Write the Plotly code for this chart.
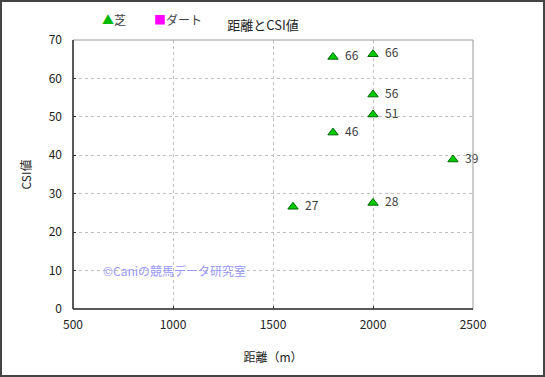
import plotly.graph_objects as go

turf_dist = [1800, 2000, 2000, 2000, 1800, 2400, 1600, 2000]
turf_csi = [65.6, 66.3, 55.8, 50.6, 45.9, 38.9, 26.6, 27.6]
dirt_dist = []
dirt_csi = []
x_ticks = [500, 1000, 1500, 2000, 2500]
y_ticks = [0, 10, 20, 30, 40, 50, 60, 70]

FONT = "Noto Sans CJK JP"
W, H = 545, 377
L, R, T, B = 73, 72, 40, 68
pw, ph = W - L - R, H - T - B

fig = go.Figure()
fig.add_trace(go.Scatter(
    x=turf_dist, y=turf_csi, mode="markers+text", name="芝",
    text=[f"  {round(v)}" for v in turf_csi], textposition="middle right",
    textfont=dict(color="#404040", size=12, family=FONT),
    marker=dict(symbol="triangle-up", size=9, color="#00cc00",
                line=dict(color="#006600", width=1)),
    cliponaxis=False, showlegend=False,
))
fig.add_trace(go.Scatter(
    x=dirt_dist, y=dirt_csi, mode="markers", name="ダート",
    marker=dict(symbol="square", size=9, color="#ff00ff"), showlegend=False,
))

fig.update_layout(
    width=W, height=H, margin=dict(l=L, r=R, t=T, b=B, autoexpand=False),
    paper_bgcolor="white", plot_bgcolor="white",
    font=dict(family=FONT, size=12, color="#222"),
    title=dict(text="距離とCSI値", x=263 / W, xanchor="center", y=1 - 25 / H,
               yanchor="middle", font=dict(size=13, color="#222", family=FONT)),
    showlegend=False,
    xaxis=dict(range=[500, 2500], tickvals=x_ticks, showgrid=True,
               gridcolor="#c0c0c0", griddash="dot", gridwidth=1,
               ticks="inside", ticklen=3, tickcolor="#333", zeroline=False,
               title=dict(text="距離（m）", standoff=22, font=dict(size=12)),
               tickfont=dict(size=12, color="#222"), showline=False,
               automargin=False, ticklabelstandoff=7),
    yaxis=dict(range=[0, 70], tickvals=y_ticks, showgrid=True,
               gridcolor="#c0c0c0", griddash="dot", gridwidth=1,
               ticks="inside", ticklen=3, tickcolor="#333", zeroline=False,
               title=dict(text="CSI値", standoff=14, font=dict(size=12)),
               tickfont=dict(size=12, color="#222"), showline=False,
               automargin=False, ticklabelstandoff=10),
)

# plot box
fig.add_shape(type="rect", xref="paper", yref="paper", x0=0, x1=1, y0=0, y1=1,
              line=dict(color="#999999", width=1), layer="above")
fig.add_shape(type="line", xref="paper", yref="paper", x0=0, x1=0, y0=0, y1=1,
              line=dict(color="#333333", width=1.5), layer="above")
fig.add_shape(type="line", xref="paper", yref="paper", x0=0, x1=1, y0=0, y1=0,
              line=dict(color="#333333", width=1.5), layer="above")
# outer border
fig.add_shape(type="rect", xref="paper", yref="paper",
              x0=(-L + 1) / pw, x1=1 + (R - 1) / pw,
              y0=(-B + 1) / ph, y1=1 + (T - 1) / ph,
              line=dict(color="#444444", width=2), layer="above")

# legend (manual)
fig.add_annotation(text="<span style='color:#00bb00'>▲</span>芝",
                   x=(100 - L) / pw, y=1 + (T - 20) / ph, xref="paper", yref="paper",
                   xanchor="left", yanchor="middle", showarrow=False,
                   font=dict(size=12, color="#404040", family=FONT))
fig.add_annotation(text="<span style='color:#ff00ff'>■</span>ダート",
                   x=(152 - L) / pw, y=1 + (T - 20) / ph, xref="paper", yref="paper",
                   xanchor="left", yanchor="middle", showarrow=False,
                   font=dict(size=12, color="#404040", family=FONT))

fig.add_annotation(text="©Caniの競馬データ研究室", x=640, y=10, xref="x", yref="y",
                   xanchor="left", yanchor="middle", showarrow=False,
                   font=dict(size=12, color="#9999ff", family=FONT))

fig.write_html("out.html", config={"displayModeBar": False},
               post_script="document.body.style.margin='0';document.body.style.overflow='hidden';")
